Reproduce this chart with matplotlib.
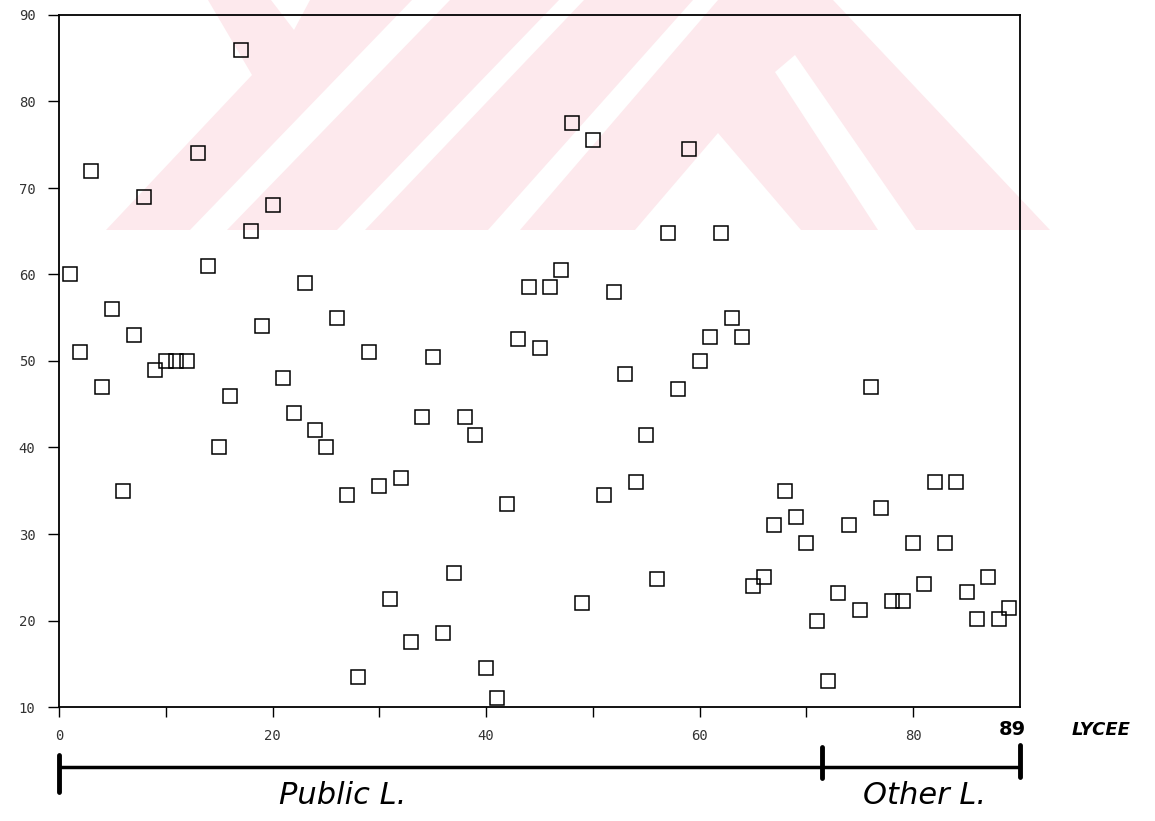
import matplotlib
matplotlib.use('Agg')
import matplotlib.pyplot as plt
from matplotlib.patches import Polygon

# data: lycee number vs score
lycee = list(range(1, 90))
score = [60, 51, 72, 47, 56, 35, 53, 69, 49, 50,
         50, 50, 74, 61, 40, 46, 86, 65, 54, 68,
         48, 44, 59, 42, 40, 55, 34.5, 13.5, 51, 35.5,
         22.5, 36.5, 17.5, 43.5, 50.5, 18.5, 25.5, 43.5, 41.5, 14.5,
         11, 33.5, 52.5, 58.5, 51.5, 58.5, 60.5, 77.5, 22, 75.5,
         34.5, 58, 48.5, 36, 41.5, 24.8, 64.8, 46.8, 74.5, 50,
         52.8, 64.8, 55, 52.8, 24, 25, 31, 35, 32, 29,
         20, 13, 23.2, 31, 21.2, 47, 33, 22.3, 22.3, 29,
         24.2, 36, 29, 36, 23.3, 20.2, 25, 20.2, 21.4]

group_edges = [0, 71.5, 90]
group_names = ['Public L.', 'Other L.']

y_ticks = [10, 20, 30, 40, 50, 60, 70, 80, 90]
x_ticks = [0, 10, 20, 30, 40, 50, 60, 70, 80]
x_ticklabels = ['0', '', '20', '', '40', '', '60', '', '80']

W, H = 1155, 821
fig = plt.figure(figsize=(W / 100, H / 100), dpi=100)

# faint watermark in the background (pixel coords, y down)
watermark = [
    [(106, 230), (190, 230), (412, 0), (310, 0), (294, 30), (271, 0),
     (208, 0), (252, 75)],
    [(227, 230), (337, 230), (559, 0), (450, 0)],
    [(365, 230), (488, 230), (693, 0), (584, 0)],
    [(520, 230), (718, 0), (833, 0), (1050, 230), (916, 230), (795, 55),
     (775, 72), (878, 230), (801, 230), (718, 133), (635, 230)],
]
for poly in watermark:
    pts = [(x / W, 1 - y / H) for x, y in poly]
    fig.patches.append(Polygon(pts, closed=True, transform=fig.transFigure,
                               facecolor='#fde9ed', edgecolor='none', zorder=0))

ax = fig.add_axes([59 / W, 1 - 707 / H, (1020 - 59) / W, (707 - 15) / H])
ax.set_zorder(2)
ax.patch.set_alpha(0)

ax.plot(lycee, score, linestyle='none', marker='s', markersize=9.5,
        markerfacecolor='none', markeredgecolor='black', markeredgewidth=1.1)

ax.set_xlim(0, 90)
ax.set_ylim(10, 90)
ax.set_yticks(y_ticks)
ax.set_xticks(x_ticks)
ax.set_xticklabels(x_ticklabels)
ax.tick_params(axis='y', direction='out', length=8, width=1, pad=9,
               labelsize=10, labelcolor='#333333')
ax.tick_params(axis='x', direction='out', length=7, width=1, pad=9,
               labelsize=10, labelcolor='#333333')
for lab in ax.get_xticklabels() + ax.get_yticklabels():
    lab.set_family('DejaVu Sans Mono')
for sp in ax.spines.values():
    sp.set_linewidth(1.3)
    sp.set_color('black')

# hand-drawn annotations under the axis
tr = ax.get_xaxis_transform()
ax.plot([group_edges[0], group_edges[-1]], [-0.087, -0.087], color='black',
        lw=2.5, transform=tr, clip_on=False, solid_capstyle='butt')
tick_spans = [(-0.069, -0.123), (-0.058, -0.103), (-0.055, -0.101)]
for xe, (y0, y1) in zip(group_edges, tick_spans):
    ax.plot([xe, xe], [y0, y1], color='black', lw=3.5, transform=tr,
            clip_on=False, solid_capstyle='round')

label_x = [26.6, 81.1]
for name, lx in zip(group_names, label_x):
    ax.text(lx, -0.128, name, transform=tr, ha='center', va='center',
            fontsize=22, style='italic', clip_on=False)

ax.text(89.3, -0.032, '89', transform=tr, ha='center', va='center',
        fontsize=14, fontweight='bold', clip_on=False)
ax.text(97.6, -0.033, 'LYCEE', transform=tr, ha='center', va='center',
        fontsize=13, fontweight='bold', style='italic', clip_on=False)

fig.savefig('out.png', dpi=100)
